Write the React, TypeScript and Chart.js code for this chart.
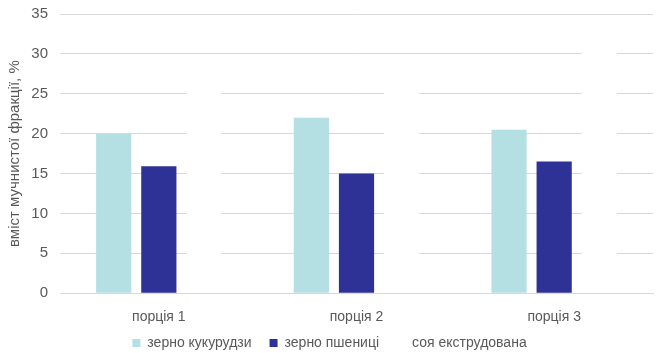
import React, { useEffect, useRef } from "react";
import { Chart, registerables } from "chart.js";

Chart.register(...registerables);

const categories = ["порція 1", "порція 2", "порція 3"];
const seriesNames = ["зерно кукурудзи", "зерно пшениці", "соя екструдована"];
const corn = [20, 22, 20.5];
const wheat = [15.9, 15, 16.5];
const soy = [27, 28, 32];
const yTicks = [0, 5, 10, 15, 20, 25, 30, 35];
const yTitle = "вміст мучнистої фракції, %";

const legendShift = {
  id: "legendShift",
  afterLayout(chart: any) {
    const lg = chart.legend;
    if (lg) {
      lg.top -= 16;
      lg.bottom -= 16;
    }
  },
};

export default function App() {
  const ref = useRef<HTMLCanvasElement | null>(null);
  useEffect(() => {
    if (!ref.current) return;
    const font = "'Liberation Sans', Arial, sans-serif";
    const chart = new Chart(ref.current, {
      type: "bar",
      data: {
        labels: categories,
        datasets: [
          { label: seriesNames[0], data: corn, backgroundColor: "#b4e0e4" },
          { label: seriesNames[1], data: wheat, backgroundColor: "#2e3195" },
          { label: seriesNames[2], data: soy, backgroundColor: "#ffffff" },
        ],
      },
      plugins: [legendShift],
      options: {
        animation: false,
        responsive: false,
        maintainAspectRatio: false,
        datasets: { bar: { categoryPercentage: 0.685, barPercentage: 0.78 } },
        layout: { padding: { top: 14, right: 11, left: 6, bottom: -23 } },
        plugins: {
          tooltip: { enabled: false },
          legend: {
            position: "bottom",
            labels: {
              boxWidth: 8,
              boxHeight: 8,
              padding: 18,
              color: "#595959",
              font: { family: font, size: 14 },
            },
          },
        },
        scales: {
          x: {
            grid: { display: false },
            border: { display: true, color: "#d9d9d9" },
            ticks: { color: "#595959", font: { family: font, size: 14 }, padding: 8 },
          },
          y: {
            min: 0,
            max: 35,
            afterBuildTicks: (axis: any) => {
              axis.ticks = yTicks.map((v) => ({ value: v }));
            },
            afterFit: (axis: any) => {
              axis.width = 54;
              axis.paddingTop = 0;
              axis.paddingBottom = 0;
            },
            grid: { color: "#d9d9d9", drawTicks: false },
            border: { display: false },
            ticks: { color: "#595959", font: { family: font, size: 15 }, padding: 12 },
            title: {
              display: true,
              text: yTitle,
              color: "#595959",
              font: { family: font, size: 15 },
              padding: { top: 0, bottom: 0 },
            },
          },
        },
      },
    });
    return () => chart.destroy();
  }, []);
  return (
    <div style={{ position: "fixed", left: 0, top: 0, width: 664, height: 353, background: "#fff" }}>
      <canvas ref={ref} width={664} height={353} style={{ width: 664, height: 353 }} />
    </div>
  );
}
